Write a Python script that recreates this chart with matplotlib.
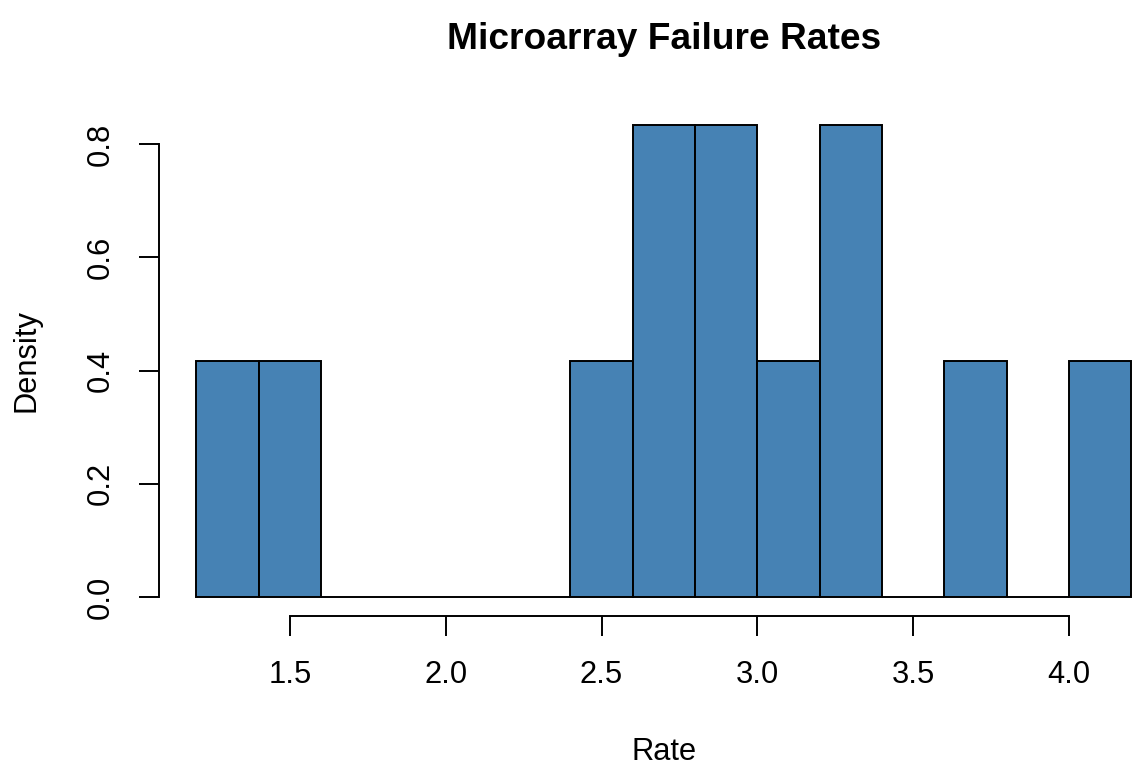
import numpy as np
import matplotlib.pyplot as plt

# histogram bins (width 0.2) and counts per bin
breaks = [1.2, 1.4, 1.6, 1.8, 2.0, 2.2, 2.4, 2.6, 2.8, 3.0, 3.2, 3.4, 3.6, 3.8, 4.0, 4.2]
counts = [1, 1, 0, 0, 0, 0, 1, 2, 2, 1, 2, 0, 1, 0, 1]
x_ticks = [1.5, 2.0, 2.5, 3.0, 3.5, 4.0]
y_ticks = [0.0, 0.2, 0.4, 0.6, 0.8]

plt.rcParams['font.family'] = ['Liberation Sans', 'DejaVu Sans']

W, H = 1132, 766
fig = plt.figure(figsize=(W / 100, H / 100), dpi=100)

# plot region in pixels (extends past the right edge)
left, right, top, bottom = 159, 1168.7, 106.2, 616
ax = fig.add_axes([left / W, 1 - bottom / H, (right - left) / W, (bottom - top) / H])

mids = [(a + b) / 2 for a, b in zip(breaks[:-1], breaks[1:])]
ax.hist(mids, bins=breaks, weights=counts, density=True,
        color='#4682B4', edgecolor='black', linewidth=1.4)

dens_max = max(counts) / (sum(counts) * 0.2)
ax.set_xlim(1.2 - 0.04 * 3.0, 4.2 + 0.04 * 3.0)
ax.set_ylim(-0.04 * dens_max, dens_max * 1.04)

for s in ['top', 'right']:
    ax.spines[s].set_visible(False)
ax.spines['left'].set_bounds(0, 0.8)
ax.spines['bottom'].set_bounds(1.5, 4.0)
for s in ['left', 'bottom']:
    ax.spines[s].set_linewidth(1.4)

fs = 22.2
ax.set_xticks(x_ticks)
ax.set_xticklabels([f'{v:.1f}' for v in x_ticks])
ax.set_yticks(y_ticks)
ax.set_yticklabels([f'{v:.1f}' for v in y_ticks], rotation=90, va='center')
ax.tick_params(length=14.4, width=1.4, labelsize=fs, pad=17.5)
ax.tick_params(axis='y', pad=16.5)

cx = (left + right) / 2 / W
fig.text(cx, 1 - 49 / H, 'Microarray Failure Rates', ha='center', va='baseline',
         fontsize=26.7, fontweight='bold')
fig.text(cx, 1 - 759.5 / H, 'Rate', ha='center', va='baseline', fontsize=fs)
fig.text(35 / W, 1 - 361 / H, 'Density', ha='center', va='baseline',
         rotation=90, fontsize=fs, rotation_mode='anchor')

fig.savefig('out.png', dpi=100)
